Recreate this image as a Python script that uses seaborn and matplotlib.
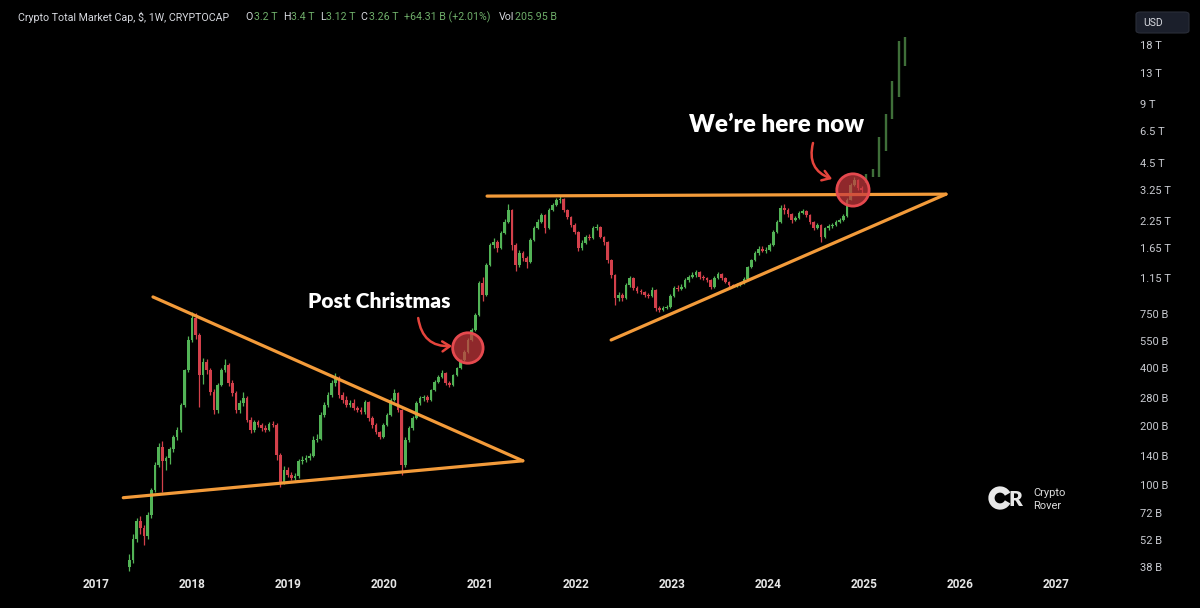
import numpy as np
import pandas as pd
import matplotlib
matplotlib.use("Agg")
from matplotlib import pyplot as plt
import matplotlib.dates as mdates
from matplotlib.patches import FancyBboxPatch, Arc
from matplotlib.ticker import NullLocator
import seaborn as sns

# two-week candles, values in billions USD
start_date = "2017-05-07"
first_open = 38
closes = [41, 53, 65, 60, 55, 70, 94, 127, 156, 132,
          138, 152, 176, 191, 257, 389, 554, 718, 588, 367,
          427, 389, 299, 242, 326, 389, 412, 334, 296, 242,
          263, 279, 216, 191, 210, 203, 196, 191, 205, 203,
          143, 104, 119, 113, 109, 111, 132, 135, 138, 141,
          170, 173, 229, 257, 289, 334, 354, 289, 273, 257,
          263, 248, 242, 237, 266, 221, 203, 186, 176, 203,
          229, 273, 296, 242, 127, 170, 196, 221, 263, 279,
          284, 273, 307, 338, 358, 376, 334, 326, 367, 398,
          437, 481, 554, 623, 744, 1087, 943, 1343, 1701, 1762,
          1642, 1961, 2232, 2573, 1701, 1343, 1548, 1459, 1391, 1804,
          2079, 2232, 2425, 2079, 2573, 2729, 2895, 2930, 2573, 2368,
          2154, 1984, 1642, 1742, 1870, 1848, 2079, 2104, 1870, 1762,
          1425, 1194, 910, 943, 910, 1061, 1152, 1024, 988, 976,
          943, 932, 1000, 809, 790, 809, 818, 932, 1024, 1010,
          1036, 1125, 1166, 1194, 1237, 1166, 1152, 1125, 1036, 1152,
          1208, 1152, 1099, 1061, 1049, 1061, 1086, 1139, 1311, 1425,
          1548, 1623, 1590, 1604, 1701, 1984, 2232, 2634, 2573, 2454,
          2285, 2340, 2483, 2542, 2425, 2232, 2079, 2154, 1870, 2079,
          2129, 2154, 2232, 2285, 2396, 2895, 3455, 3665, 3335, 3260]
highs = [44, 56, 68, 69, 62, 73, 97, 131, 165, 168,
         140, 156, 180, 198, 262, 395, 580, 770, 760, 600,
         450, 440, 400, 310, 335, 400, 440, 420, 345, 305,
         272, 300, 285, 222, 215, 216, 208, 202, 210, 212,
         207, 146, 125, 123, 116, 115, 136, 140, 142, 146,
         178, 182, 236, 265, 300, 345, 375, 360, 300, 285,
         272, 275, 255, 250, 272, 270, 225, 208, 190, 208,
         234, 280, 310, 300, 245, 176, 200, 226, 268, 285,
         290, 290, 312, 345, 366, 390, 380, 342, 372, 405,
         445, 490, 565, 635, 760, 1110, 1160, 1380, 1740, 1850,
         1800, 2000, 2300, 2750, 2600, 1750, 1600, 1590, 1500, 1850,
         2130, 2300, 2480, 2450, 2620, 2780, 2960, 3050, 2960, 2600,
         2400, 2200, 2010, 1800, 1920, 1930, 2120, 2180, 2130, 1900,
         1790, 1450, 1210, 980, 970, 1090, 1180, 1160, 1050, 1010,
         990, 960, 1030, 1010, 830, 830, 840, 950, 1050, 1060,
         1070, 1150, 1200, 1230, 1270, 1250, 1190, 1170, 1140, 1180,
         1240, 1220, 1165, 1110, 1075, 1080, 1100, 1160, 1330, 1450,
         1580, 1680, 1690, 1660, 1740, 2020, 2280, 2720, 2750, 2620,
         2480, 2400, 2530, 2600, 2570, 2450, 2260, 2200, 2180, 2110,
         2170, 2200, 2280, 2330, 2440, 2950, 3520, 3780, 3720, 3400]
lows = [36, 40, 51, 56, 49, 53, 68, 92, 124, 92,
        120, 128, 148, 170, 186, 250, 380, 540, 560, 250,
        330, 370, 290, 230, 235, 320, 380, 320, 285, 235,
        235, 255, 210, 185, 186, 198, 190, 186, 188, 198,
        135, 98, 101, 110, 106, 106, 109, 128, 131, 134,
        139, 166, 170, 222, 250, 283, 320, 280, 262, 250,
        250, 242, 236, 230, 232, 212, 196, 182, 172, 174,
        200, 226, 268, 236, 112, 124, 166, 192, 218, 258,
        268, 266, 270, 303, 334, 352, 325, 318, 322, 360,
        392, 430, 475, 545, 615, 735, 880, 930, 1320, 1650,
        1560, 1620, 1930, 2200, 1600, 1250, 1310, 1400, 1290, 1370,
        1780, 2050, 2200, 1950, 2050, 2530, 2690, 2800, 2520, 2300,
        2100, 1930, 1580, 1600, 1720, 1800, 1830, 2040, 1840, 1700,
        1380, 1150, 840, 880, 880, 900, 1040, 1000, 960, 950,
        920, 905, 920, 780, 770, 780, 795, 810, 920, 990,
        1000, 1020, 1100, 1150, 1170, 1140, 1120, 1100, 1010, 1020,
        1140, 1130, 1080, 1040, 1030, 1035, 1050, 1075, 1130, 1300,
        1410, 1520, 1560, 1550, 1580, 1690, 1960, 2200, 2450, 2380,
        2200, 2250, 2300, 2450, 2380, 2180, 2030, 2050, 1760, 1850,
        2040, 2090, 2130, 2200, 2260, 2380, 2880, 3400, 3250, 3120]

# projected path
proj_dates = ["2025-01-08", "2025-02-04", "2025-02-27", "2025-03-26",
              "2025-04-17", "2025-05-14", "2025-06-06"]
proj_lows = [3540, 3800, 3800, 5160, 7530, 9770, 14100]
proj_highs = [3940, 4170, 6090, 7990, 11800, 18900, 19800]

# drawn pattern lines (date, value)
tri_upper = (["2017-08-05", "2021-06-12"], [921, 133])
tri_lower = (["2017-04-14", "2021-06-12"], [86, 133])
resistance = (["2021-01-27", "2025-11-08"], [3030, 3100])
support = (["2022-05-14", "2025-11-08"], [554, 3100])

circle_dates = ["2020-11-15", "2024-11-19"]
circle_vals = [504, 3257]

y_ticks = [18000, 13000, 9000, 6500, 4500, 3250, 2250, 1650, 1150,
           750, 550, 400, 280, 200, 140, 100, 72, 52, 38]
y_labels = ["18 T", "13 T", "9 T", "6.5 T", "4.5 T", "3.25 T", "2.25 T", "1.65 T", "1.15 T",
            "750 B", "550 B", "400 B", "280 B", "200 B", "140 B", "100 B", "72 B", "52 B", "38 B"]
years = list(range(2017, 2028))

green = "#52b356"
red = "#d3404b"
orange = "#f39b3a"
proj_green = "#3f6f39"

sns.set_theme(style="dark", rc={"axes.facecolor": "black", "figure.facecolor": "black",
                                "axes.grid": False})
plt.rcParams["font.family"] = ["Roboto", "DejaVu Sans"]

fig = plt.figure(figsize=(12, 6.08), dpi=100)
ax = fig.add_axes([0, 34 / 608, 1130 / 1200, 574 / 608])
ax.set_facecolor("black")

df = pd.DataFrame({"date": pd.date_range(start_date, periods=len(closes), freq="14D"),
                   "open": [first_open] + closes[:-1], "close": closes,
                   "high": highs, "low": lows})
df["color"] = np.where(df["close"] >= df["open"], green, red)

ax.vlines(df["date"], df["low"], df["high"], colors=df["color"], lw=0.9, zorder=2)
ax.bar(df["date"], (df["close"] - df["open"]).abs(),
       bottom=df[["open", "close"]].min(axis=1), width=10,
       color=df["color"], linewidth=0, zorder=3)

ax.vlines(pd.to_datetime(proj_dates), proj_lows, proj_highs, colors=proj_green, lw=1.7, zorder=2)

for xs, ys in [tri_upper, tri_lower, resistance, support]:
    sns.lineplot(x=pd.to_datetime(xs), y=ys, ax=ax, color=orange, lw=2.3, zorder=4,
                 solid_capstyle="round")

ax.scatter(pd.to_datetime(circle_dates), circle_vals, s=[480, 540],
           facecolor=(0.78, 0.22, 0.24, 0.72), edgecolor="#e5494e", lw=2.0, zorder=5)

def dn(s):
    return mdates.date2num(pd.Timestamp(s))

arrow = dict(arrowstyle="->,head_length=0.45,head_width=0.3", color="#e5443c", lw=1.8,
             connectionstyle="arc3,rad=0.45", shrinkA=0, shrinkB=0)
ax.annotate("", xy=(dn("2020-09-16"), 516), xytext=(dn("2020-05-10"), 718),
            arrowprops=arrow, zorder=6)
ax.annotate("", xy=(dn("2024-09-01"), 3709), xytext=(dn("2024-06-20"), 5673),
            arrowprops=arrow, zorder=6)

ax.text(dn("2019-12-15"), 868, "Post Christmas", ha="center", va="center", color="white",
        fontsize=15, fontweight="heavy", family=["Lato", "DejaVu Sans"], zorder=6)
ax.text(dn("2024-02-04"), 7019, "We\u2019re here now", ha="center", va="center", color="white",
        fontsize=17.5, fontweight="heavy", family=["Lato", "DejaVu Sans"], zorder=6)

ax.set_yscale("log")
ax.set_ylim(34.94, 30700)
ax.set_xlim(pd.Timestamp("2016-01-01"), pd.Timestamp("2027-10-09"))
ax.yaxis.tick_right()
ax.set_yticks(y_ticks)
ax.set_yticklabels(y_labels)
ax.yaxis.set_minor_locator(NullLocator())
ax.set_xticks([pd.Timestamp(f"{y}-01-01") for y in years])
ax.set_xticklabels([str(y) for y in years], fontweight="bold")
ax.tick_params(axis="y", length=0, pad=7, labelsize=8, labelcolor="#c9cbd1")
ax.tick_params(axis="x", length=0, pad=3, labelsize=8.5, labelcolor="#e6e6e6")
ax.set_xlabel("")
ax.set_ylabel("")
for sp in ax.spines.values():
    sp.set_visible(False)

def px(x, y):
    return x / 1200, 1 - y / 608

hdr_white = "#d8dae0"
hdr_green = "#6fae6a"
parts = [(18, "Crypto Total Market Cap, $, 1W, CRYPTOCAP", hdr_white),
         (245, "O", hdr_white), (254, "3.2 T", hdr_green),
         (283, "H", hdr_white), (291, "3.4 T", hdr_green),
         (320, "L", hdr_white), (326, "3.12 T", hdr_green),
         (360, "C", hdr_white), (369, "3.26 T", hdr_green),
         (404, "+64.31 B (+2.01%)", hdr_green),
         (499, "Vol", hdr_white), (515, "205.95 B", hdr_green)]
for x0, s, c in parts:
    fig.text(*px(x0, 17), s, ha="left", va="center", color=c, fontsize=7.7)

box = FancyBboxPatch(px(1136, 33), 53 / 1200, 21 / 608, boxstyle="round,pad=0,rounding_size=0.004",
                     transform=fig.transFigure, facecolor="#1b1f2b", edgecolor="#2a2e39", lw=0.8)
fig.patches.append(box)
fig.text(*px(1143, 22.5), "USD", ha="left", va="center", color="#d8dae0", fontsize=7.5)

# logo
fig.patches.append(Arc(px(1000, 498), 17 / 1200, 17 / 608, theta1=45, theta2=315,
                       transform=fig.transFigure, color="#e8e8e8", lw=4.5))
fig.text(*px(1015, 499), "R", ha="center", va="center", color="#e8e8e8", fontsize=15,
         fontweight="heavy", family=["Lato", "DejaVu Sans"])
fig.text(*px(1033, 493), "Crypto", ha="left", va="center", color="#dcdcdc", fontsize=8)
fig.text(*px(1033, 506), "Rover", ha="left", va="center", color="#dcdcdc", fontsize=8)

fig.savefig("out.png", dpi=100, facecolor="black")
